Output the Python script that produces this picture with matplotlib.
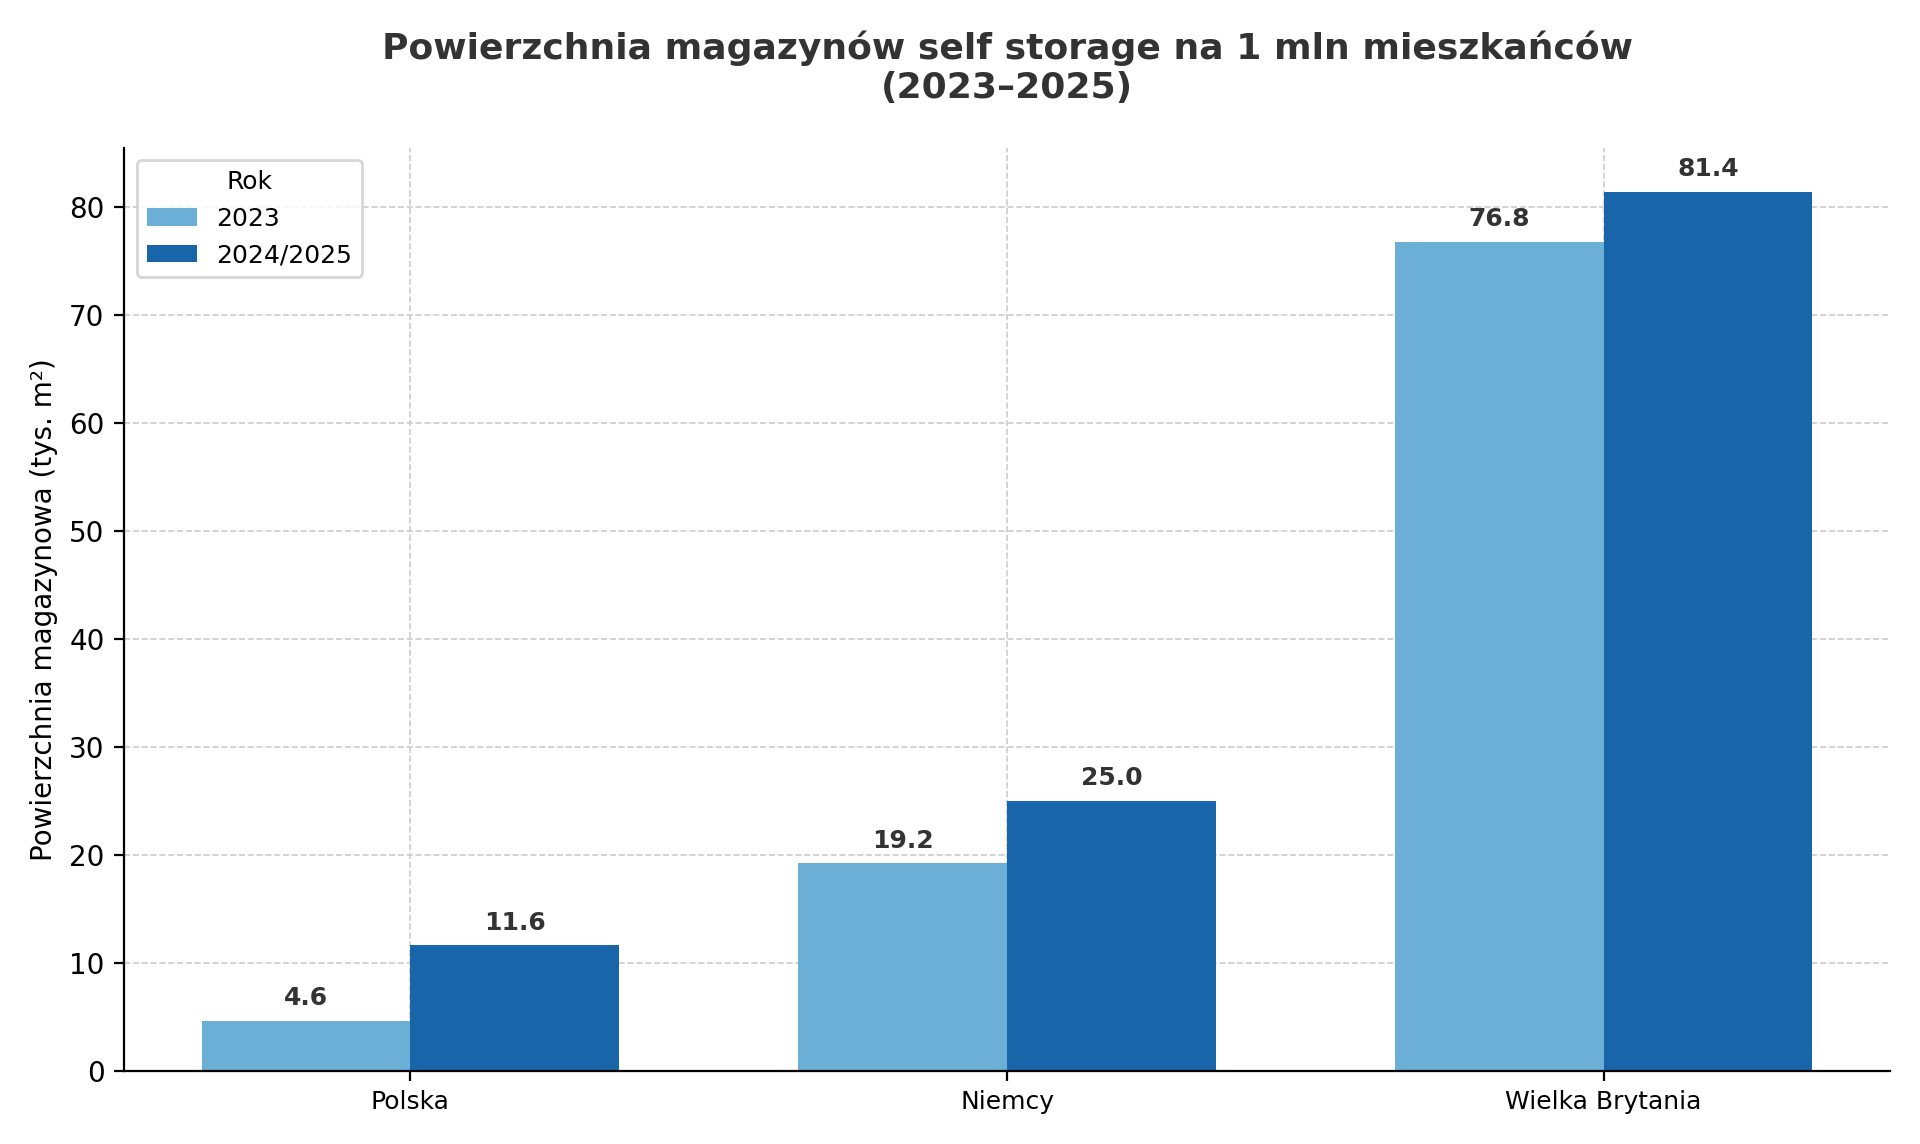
import matplotlib
matplotlib.use("Agg")
import matplotlib.pyplot as plt
import numpy as np

categories = ["Polska", "Niemcy", "Wielka Brytania"]
v2023 = [4.6, 19.2, 76.8]
v2025 = [11.6, 25.0, 81.4]
series_labels = ["2023", "2024/2025"]

plt.rcParams['font.family'] = ['DejaVu Sans']
fig, ax = plt.subplots(figsize=(9.6, 5.72), dpi=200)
x = np.arange(len(categories))
w = 0.35
b1 = ax.bar(x - w/2, v2023, w, color="#6baed6", label=series_labels[0], zorder=2)
b2 = ax.bar(x + w/2, v2025, w, color="#1865aa", label=series_labels[1], zorder=2)
for bars in (b1, b2):
    for r in bars:
        ax.text(r.get_x() + r.get_width()/2, r.get_height() + 1.0, f"{r.get_height():.1f}",
                ha="center", va="bottom", fontsize=9, fontweight="bold", color="#333333")
ax.set_xticks(x)
ax.set_xticklabels(categories, fontsize=9)
ax.tick_params(axis='y', labelsize=10)
ax.set_ylim(0, 85.5)
ax.set_xlim(-0.48, 2.48)
ax.set_ylabel("Powierzchnia magazynowa (tys. m²)", fontsize=10)
ax.set_title("Powierzchnia magazynów self storage na 1 mln mieszkańców\n(2023–2025)",
             fontsize=13, fontweight="bold", color="#333333", pad=18)
ax.grid(True, linestyle="--", color="#cccccc", linewidth=0.6, zorder=0)
ax.set_axisbelow(True)
for s in ("top", "right"):
    ax.spines[s].set_visible(False)
ax.legend(title="Rok", fontsize=9, title_fontsize=9, loc="upper left")
fig.tight_layout()
fig.savefig("out.png", dpi=200)
